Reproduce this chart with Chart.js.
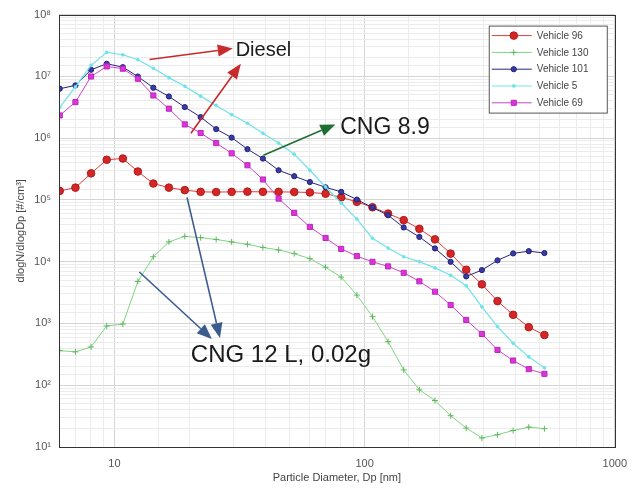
<!DOCTYPE html>
<html>
<head>
<meta charset="utf-8">
<script src="https://cdn.jsdelivr.net/npm/chart.js@4.4.1/dist/chart.umd.min.js"></script>
<style>
  html, body { margin: 0; padding: 0; background: #ffffff; }
  #wrap { width: 637px; height: 492px; }
</style>
</head>
<body>
<div id="wrap"><canvas id="c" width="637" height="492"></canvas></div>
<script>
// Particle diameters (EEPS channels), nm
const diameters = [6.04, 6.98, 8.06, 9.31, 10.8, 12.4, 14.3, 16.5, 19.1, 22.1, 25.5, 29.4, 34.0, 39.2, 45.3, 52.3,
  60.4, 69.8, 80.6, 93.1, 107.5, 124.1, 143.3, 165.5, 191.1, 220.7, 254.8, 294.3, 339.8, 392.4, 453.2, 523.3];

const seriesNames = ['Vehicle 96', 'Vehicle 130', 'Vehicle 101', 'Vehicle 5', 'Vehicle 69'];

const vehicle96 = [1.40e5, 1.58e5, 2.69e5, 4.47e5, 4.68e5, 2.88e5, 1.84e5, 1.58e5, 1.44e5, 1.35e5, 1.34e5, 1.35e5,
  1.36e5, 1.35e5, 1.35e5, 1.34e5, 1.32e5, 1.26e5, 1.10e5, 9.3e4, 7.6e4, 6.0e4, 4.7e4, 3.4e4, 2.3e4, 1.35e4,
  7.4e3, 4.3e3, 2.3e3, 1.38e3, 870, 650];

const vehicle130 = [363, 347, 417, 912, 977, 4790, 1.20e4, 2.09e4, 2.57e4, 2.45e4, 2.29e4, 2.09e4, 1.91e4, 1.70e4,
  1.55e4, 1.35e4, 1.12e4, 8130, 5620, 2880, 1290, 508, 177, 84.3, 56.6, 32.1, 20.3, 14.0, 15.8, 18.5, 21.0, 19.8];

const vehicle101 = [6.31e6, 7.13e6, 1.28e7, 1.60e7, 1.41e7, 9.95e6, 6.55e6, 4.73e6, 3.18e6, 2.19e6, 1.40e6, 1.02e6,
  6.64e5, 4.67e5, 3.02e5, 2.42e5, 1.95e5, 1.60e5, 1.35e5, 1.01e5, 7.53e4, 5.66e4, 3.58e4, 2.52e4, 1.64e4, 9950,
  5780, 7310, 1.05e4, 1.36e4, 1.48e4, 1.38e4];

const vehicle5 = [3.16e6, 6.76e6, 1.51e7, 2.45e7, 2.24e7, 1.86e7, 1.35e7, 9.55e6, 6.92e6, 4.79e6, 3.39e6, 2.40e6,
  1.74e6, 1.20e6, 8.32e5, 5.50e5, 3.02e5, 1.62e5, 8.91e4, 4.90e4, 2.40e4, 1.66e4, 1.20e4, 1.00e4, 7940, 6030,
  4070, 1860, 891, 479, 288, 191];

const vehicle69 = [2.33e6, 3.83e6, 9.95e6, 1.45e7, 1.33e7, 9.14e6, 4.91e6, 3.00e6, 1.67e6, 1.21e6, 8.32e5, 5.68e5,
  3.64e5, 2.14e5, 1.05e5, 6.17e4, 3.66e4, 2.42e4, 1.61e4, 1.23e4, 9950, 8390, 6610, 4810, 3270, 1990, 1140, 676,
  373, 251, 182, 153];

const xTickLabels = { 10: '10', 100: '100', 1000: '1000' };
const yTickLabels = { 10: '10\u00b9', 100: '10\u00b2', 1000: '10\u00b3', 10000: '10\u2074', 100000: '10\u2075',
  1000000: '10\u2076', 10000000: '10\u2077', 100000000: '10\u2078' };

// Annotations (data coordinates: diameter nm, concentration)
const annotationTexts = [
  { text: 'Diesel', x: 30.5, y: 2.6e7, size: 20 },
  { text: 'CNG 8.9', x: 79.9, y: 1.49e6, size: 23 },
  { text: 'CNG 12 L, 0.02g', x: 20.2, y: 300, size: 24 }
];
const annotationArrows = [
  { from: [13.8, 1.87e7], to: [29.7, 2.83e7], color: '#c92a2a' },
  { from: [20.2, 1.2e6], to: [32.0, 1.6e7], color: '#c92a2a' },
  { from: [39.4, 5.27e5], to: [76.4, 1.67e6], color: '#1f6e33' },
  { from: [12.57, 6.8e3], to: [24.5, 562], color: '#3b5b8e' },
  { from: [19.5, 1.1e5], to: [26.4, 583], color: '#3b5b8e' }
];

function pts(vals) { return vals.map((v, i) => ({ x: diameters[i], y: v })); }

const isDecade = v => { const l = Math.log10(v); return Math.abs(l - Math.round(l)) < 1e-6; };

const boxPlugin = {
  id: 'boxPlugin',
  afterDatasetsDraw(chart) {
    const ctx = chart.ctx, a = chart.chartArea;
    const xs = chart.scales.x, ys = chart.scales.y;
    ctx.save();
    // arrows
    annotationArrows.forEach(ar => {
      const x1 = xs.getPixelForValue(ar.from[0]), y1 = ys.getPixelForValue(ar.from[1]);
      const x2 = xs.getPixelForValue(ar.to[0]), y2 = ys.getPixelForValue(ar.to[1]);
      const ang = Math.atan2(y2 - y1, x2 - x1);
      const hl = 15, hw = 6;
      const bx = x2 - hl * Math.cos(ang), by = y2 - hl * Math.sin(ang);
      ctx.strokeStyle = ar.color; ctx.fillStyle = ar.color; ctx.lineWidth = 1.6;
      ctx.beginPath(); ctx.moveTo(x1, y1); ctx.lineTo(bx, by); ctx.stroke();
      ctx.beginPath();
      ctx.moveTo(x2, y2);
      ctx.lineTo(bx + hw * Math.sin(ang), by - hw * Math.cos(ang));
      ctx.lineTo(bx - hw * Math.sin(ang), by + hw * Math.cos(ang));
      ctx.closePath(); ctx.fill();
    });
    // texts
    ctx.fillStyle = '#1a1a1a';
    ctx.textBaseline = 'middle'; ctx.textAlign = 'left';
    annotationTexts.forEach(t => {
      ctx.font = t.size + 'px "Liberation Sans", Arial, sans-serif';
      ctx.fillText(t.text, xs.getPixelForValue(t.x), ys.getPixelForValue(t.y));
    });
    // legend
    const lx = a.right - 126, ly = a.top + 11, lw = 118, lh = 87;
    ctx.fillStyle = '#ffffff';
    ctx.fillRect(lx, ly, lw, lh);
    ctx.strokeStyle = '#555'; ctx.lineWidth = 1;
    ctx.strokeRect(lx + 0.5, ly + 0.5, lw, lh);
    ctx.font = '10px "Liberation Sans", Arial, sans-serif';
    chart.data.datasets.forEach((ds, i) => {
      const yy = ly + 10 + i * 16.8;
      ctx.strokeStyle = ds.borderColor; ctx.lineWidth = 1;
      ctx.beginPath(); ctx.moveTo(lx + 3, yy); ctx.lineTo(lx + 43, yy); ctx.stroke();
      ctx.save();
      ctx.fillStyle = ds.pointBackgroundColor; ctx.strokeStyle = ds.pointBorderColor;
      ctx.lineWidth = ds.pointBorderWidth || 1;
      Chart.helpers.drawPoint(ctx, { pointStyle: ds.pointStyle, radius: ds.pointRadius, borderWidth: ds.pointBorderWidth || 1 }, lx + 25, yy);
      ctx.restore();
      ctx.fillStyle = '#444';
      ctx.textAlign = 'left';
      ctx.fillText(ds.label, lx + 48, yy + 0.5);
    });
    // plot frame
    ctx.strokeStyle = '#333'; ctx.lineWidth = 1;
    ctx.strokeRect(Math.round(a.left) + 0.5, Math.round(a.top) + 0.5,
      Math.round(a.right - a.left), Math.round(a.bottom - a.top));
    ctx.restore();
  }
};

const gridColor = ctx => {
  const v = ctx.tick && ctx.tick.value;
  return v && isDecade(v) ? '#d4d4d4' : '#ececec';
};

new Chart(document.getElementById('c'), {
  type: 'line',
  data: {
    datasets: [
      { label: seriesNames[0], data: pts(vehicle96), borderColor: '#e23a3a', borderWidth: 1,
        pointStyle: 'circle', pointRadius: 3.8, pointBackgroundColor: '#d42626', pointBorderColor: '#b31a1a',
        pointBorderWidth: 1, order: 4 },
      { label: seriesNames[1], data: pts(vehicle130), borderColor: '#7fd67f', borderWidth: 1,
        pointStyle: 'cross', pointRadius: 3, pointBackgroundColor: '#5fb85f', pointBorderColor: '#5fb85f',
        pointBorderWidth: 1, order: 3 },
      { label: seriesNames[2], data: pts(vehicle101), borderColor: '#26267f', borderWidth: 1,
        pointStyle: 'circle', pointRadius: 2.6, pointBackgroundColor: '#3a3aa6', pointBorderColor: '#222278',
        pointBorderWidth: 1, order: 2 },
      { label: seriesNames[3], data: pts(vehicle5), borderColor: '#6fe3ea', borderWidth: 1.2,
        pointStyle: 'circle', pointRadius: 1.4, pointBackgroundColor: '#6fe3ea', pointBorderColor: '#6fe3ea',
        pointBorderWidth: 1, order: 1 },
      { label: seriesNames[4], data: pts(vehicle69), borderColor: '#cc44cc', borderWidth: 1,
        pointStyle: 'rect', pointRadius: 3.6, pointBackgroundColor: '#dd33dd', pointBorderColor: '#b828b8',
        pointBorderWidth: 1, order: 0 }
    ]
  },
  options: {
    responsive: false,
    animation: false,
    layout: { padding: { top: 14, right: 21, left: 0, bottom: 0 } },
    plugins: { legend: { display: false }, tooltip: { enabled: false } },
    elements: { line: { tension: 0 } },
    scales: {
      x: {
        type: 'logarithmic', min: 6, max: 1000,
        grid: { color: gridColor, drawTicks: false },
        border: { display: false },
        ticks: {
          autoSkip: false, maxRotation: 0, padding: 10, color: '#555',
          font: { family: '"Liberation Sans", Arial, sans-serif', size: 11 },
          callback: v => xTickLabels[v] !== undefined && isDecade(v) ? xTickLabels[Math.round(v)] : ''
        },
        title: { display: true, text: 'Particle Diameter, Dp [nm]', color: '#444',
          font: { family: '"Liberation Sans", Arial, sans-serif', size: 11 }, padding: { top: 0, bottom: 7 } },
        afterFit: s => { s.height = 45; }
      },
      y: {
        type: 'logarithmic', min: 10, max: 1e8,
        grid: { color: gridColor, drawTicks: false },
        border: { display: false },
        ticks: {
          autoSkip: false, padding: 8, color: '#555',
          font: { family: '"Liberation Sans", Arial, sans-serif', size: 11 },
          callback: v => isDecade(v) ? (yTickLabels[Math.round(v)] || '') : ''
        },
        title: { display: true, text: 'dlogN/dlogDp [#/cm\u00b3]', color: '#444',
          font: { family: '"Liberation Sans", Arial, sans-serif', size: 11 }, padding: { top: 14, bottom: 0 } },
        afterFit: s => { s.width = 59; }
      }
    }
  },
  plugins: [boxPlugin]
});
</script>
</body>
</html>
